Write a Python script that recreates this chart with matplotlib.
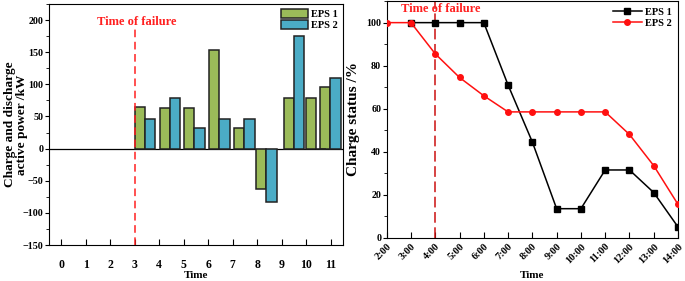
import numpy as np
import matplotlib.pyplot as plt
from matplotlib.ticker import MultipleLocator

plt.rcParams['font.family'] = ['Liberation Serif', 'DejaVu Serif']
plt.rcParams['font.weight'] = 'bold'

# --- left panel: charge / discharge power ---
hours = [0, 1, 2, 3, 4, 5, 6, 7, 8, 9, 10, 11]
bar_pos = [3.0, 4.03, 5.02, 6.04, 7.06, 7.96, 9.08, 9.98, 10.57]
p_eps1 = [64.5, 63, 62.5, 153.5, 31.5, -63.5, 79, 78, 96.5]
p_eps2 = [46.5, 78.5, 31.5, 46.5, 46.5, -83, 174.5, 0, 110.5]

# --- right panel: state of charge ---
clock = ['2:00', '3:00', '4:00', '5:00', '6:00', '7:00', '8:00',
         '9:00', '10:00', '11:00', '12:00', '13:00', '14:00']
soc_eps1 = [None, 100, 100, 100, 100, 71, 44.5, 13.5, 13.5, 31.5, 31.5, 21, 5]
soc_eps2 = [100, 100, 85.5, 74.5, 66, 58.5, 58.5, 58.5, 58.5, 58.5, 48, 33.5, 15.5]

green = '#9BBB59'
blue = '#4BACC6'

fig = plt.figure(figsize=(6.85, 2.81), dpi=100)
ax1 = fig.add_axes([0.0715, 0.128, 0.429, 0.858])
ax2 = fig.add_axes([0.5645, 0.154, 0.4253, 0.842])

w = 0.42
x1 = np.array(bar_pos)
ax1.bar(x1, p_eps1, width=w, align='edge', color=green, edgecolor='#222222',
        linewidth=1.1, label='EPS 1', zorder=3)
ax1.bar(x1 + w, p_eps2, width=w, align='edge', color=blue, edgecolor='#222222',
        linewidth=1.1, label='EPS 2', zorder=3)
ax1.axhline(0, color='black', lw=0.9, zorder=2)
ax1.plot([3, 3], [-150, 190], color='#FF2020', ls=(0, (5, 3)), lw=1.1, zorder=4)
ax1.text(3.1, 197, 'Time of failure', color='#FF2020', fontsize=9,
         fontweight='bold', ha='center', va='center')

ax1.set_xlim(-0.5, 11.5)
ax1.set_ylim(-150, 225)
ax1.set_xticks(hours)
ax1.yaxis.set_major_locator(MultipleLocator(50))
ax1.yaxis.set_minor_locator(MultipleLocator(25))
ax1.tick_params(axis='x', direction='in', length=4, pad=10, labelsize=8.5)
ax1.tick_params(axis='y', which='both', direction='out', labelsize=7.2, pad=1)
ax1.tick_params(axis='y', which='major', length=3)
ax1.tick_params(axis='y', which='minor', length=2)
ax1.set_xlabel('Time', fontsize=8, fontweight='bold', labelpad=0)
ax1.set_ylabel('Charge and discharge\nactive power /kW', fontsize=9.6,
               fontweight='bold', linespacing=0.95)
ax1.yaxis.set_label_coords(-0.072, 0.5)
ax1.legend(loc='upper right', frameon=False, fontsize=7.5, borderaxespad=0.1,
           handlelength=2.6, handleheight=1.0, labelspacing=0.05,
           handletextpad=0.3)

# right panel
xs = np.arange(len(clock)) + 2
ax2.plot(xs, soc_eps1, color='black', marker='s', ms=4, lw=1.1,
         label='EPS 1', zorder=3)
ax2.plot(xs, soc_eps2, color='#FF1010', marker='o', ms=4, lw=1.1,
         label='EPS 2', zorder=4)
ax2.plot([4, 4], [0, 110], color='#CC1010', ls=(0, (7, 3)), lw=1.1, zorder=2)
ax2.text(4.23, 106.3, 'Time of failure', color='#FF2020', fontsize=9,
         fontweight='bold', ha='center', va='center')

ax2.set_xlim(2, 14)
ax2.set_ylim(0, 110)
ax2.set_xticks(xs)
ax2.set_xticklabels(clock, rotation=45, ha='right', rotation_mode='anchor')
ax2.yaxis.set_major_locator(MultipleLocator(20))
ax2.yaxis.set_minor_locator(MultipleLocator(10))
ax2.tick_params(axis='x', direction='in', length=4, pad=3, labelsize=7.5)
ax2.tick_params(axis='y', which='both', direction='out', labelsize=7.2, pad=1)
ax2.tick_params(axis='y', which='major', length=3)
ax2.tick_params(axis='y', which='minor', length=2)
ax2.set_xlabel('Time', fontsize=8, fontweight='bold', labelpad=4)
ax2.set_ylabel('Charge status /%', fontsize=11, fontweight='bold')
ax2.yaxis.set_label_coords(-0.092, 0.5)
ax2.legend(loc='upper right', frameon=False, fontsize=7.5, borderaxespad=0.2,
           handlelength=2.8, labelspacing=0.2, handletextpad=0.3)

fig.savefig('out.png', dpi=100)
